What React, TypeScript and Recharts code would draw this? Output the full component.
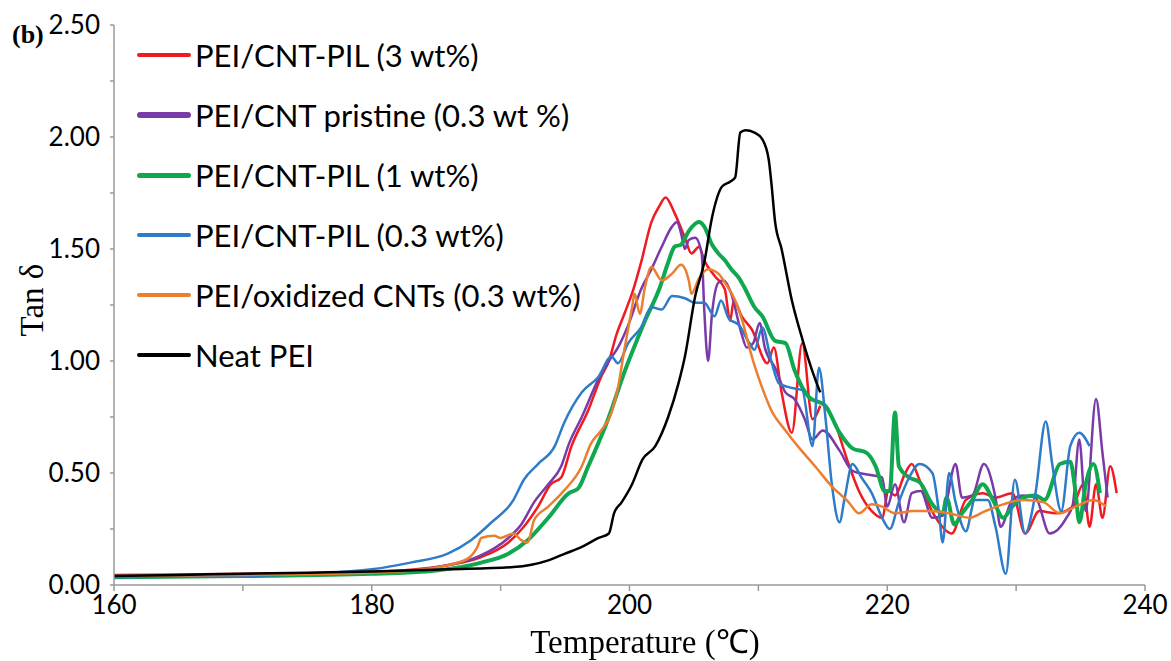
import { LineChart, Line, XAxis, YAxis } from 'recharts';

// temperature (°C) / tan delta pairs
const pil3: [number, number | null][] = [
  [160, 0.045], [165, 0.047], [170, 0.05], [175, 0.053], [180, 0.058], [183, 0.068], [185, 0.08], [187, 0.1],
  [188.5, 0.125], [190.6, 0.19], [191.8, 0.26], [192.9, 0.35], [193.9, 0.45], [194.7, 0.48], [195.5, 0.62],
  [196.8, 0.78], [197.8, 0.93], [198.4, 1.0], [199, 1.12], [199.6, 1.21], [200.3, 1.32], [200.9, 1.44],
  [201.7, 1.62], [202.3, 1.69], [202.8, 1.73], [203.5, 1.66], [204.3, 1.55], [204.8, 1.48], [205.4, 1.51],
  [205.8, 1.45], [206.6, 1.38], [207.4, 1.32], [207.8, 1.18], [208.1, 1.27], [208.7, 1.2], [209.5, 1.14],
  [210.7, 0.99], [211.2, 1.06], [211.8, 0.86], [212.6, 0.68], [213.4, 1.08], [214.2, 0.74], [214.8, 0.8],
  [215.4, null],
  [216, 0.72], [217, 0.54], [217.8, 0.42], [218.8, 0.33], [219.6, 0.3], [220.1, 0.42], [220.6, 0.4],
  [221.4, 0.5], [221.9, 0.54], [222.5, 0.47], [223.3, 0.35], [224, 0.28], [225, 0.23], [226.1, 0.38],
  [227.4, 0.41], [228.4, 0.39], [229.7, 0.41], [230.7, 0.23], [231.8, 0.33], [233.1, 0.32], [234.4, 0.35],
  [235.2, 0.45], [235.7, 0.26], [236.2, 0.45], [236.7, 0.3], [237.3, 0.53], [237.8, 0.41],
];

const pristine: [number, number | null][] = [
  [160, 0.04], [170, 0.045], [180, 0.055], [184, 0.07], [186, 0.09], [188.2, 0.125], [190.6, 0.21],
  [191.6, 0.27], [192.6, 0.37], [193.7, 0.45], [194.7, 0.53], [195.3, 0.63], [196.3, 0.75], [197.6, 0.92],
  [198.4, 1.0], [199.1, 1.06], [199.9, 1.16], [200.9, 1.32], [201.7, 1.41], [202.5, 1.51], [203.3, 1.6],
  [203.7, 1.62], [204, 1.57], [204.3, 1.5], [204.6, 1.54], [205.1, 1.55], [205.6, 1.48], [205.8, 1.23],
  [206.1, 1.0], [206.4, 1.21], [206.9, 1.35], [207.3, 1.36], [207.9, 1.3], [208.7, 1.12], [209.1, 1.06],
  [209.6, 1.08], [210.1, 1.17], [210.5, 1.06], [211.3, 0.97], [212.1, 0.86], [212.8, 0.83], [213.6, 0.74],
  [214.2, 0.65], [215, 0.69], [216.3, 0.6], [217.3, 0.51], [218.8, 0.49], [219.6, 0.48], [220, 0.35],
  [220.6, 0.45], [221.3, 0.28], [221.9, 0.41], [222.6, 0.42], [223.5, 0.3], [224.3, 0.31], [225.3, 0.54],
  [225.8, 0.39], [226.6, 0.4], [227.5, 0.54], [228.4, 0.39], [228.8, 0.26], [229.7, 0.38], [230.5, 0.4],
  [231.5, 0.39], [232.6, 0.23], [233.9, 0.3], [234.4, 0.36], [234.9, 0.65], [235.4, 0.33], [236.2, 0.83],
  [236.7, 0.59], [237.1, 0.39],
];

const pil1: [number, number | null][] = [
  [160, 0.035], [170, 0.04], [180, 0.05], [185, 0.065], [188.5, 0.1], [190.6, 0.14], [192.1, 0.2],
  [193.7, 0.3], [195.3, 0.41], [196, 0.43], [196.8, 0.53], [198.4, 0.75], [199.6, 0.95], [200.7, 1.11],
  [201.2, 1.18], [202.3, 1.32], [203, 1.44], [203.5, 1.51], [204, 1.52], [204.6, 1.58], [205.4, 1.62],
  [205.8, 1.6], [206.4, 1.52], [206.9, 1.48], [207.4, 1.45], [207.9, 1.41], [208.5, 1.37], [208.9, 1.33],
  [209.7, 1.24], [210.3, 1.2], [211.3, 1.09], [212.1, 1.08], [212.8, 0.96], [213.9, 0.84], [215.2, 0.8],
  [216.3, 0.68], [217.3, 0.61], [218.4, 0.59], [219.1, 0.53], [219.8, 0.42], [220.2, 0.42], [220.6, 0.77],
  [220.9, 0.53], [221.7, 0.48], [222.5, 0.46], [223.5, 0.36], [224.3, 0.32], [224.6, 0.39], [225.2, 0.27],
  [225.8, 0.32], [226.6, 0.38], [227.4, 0.45], [228.2, 0.38], [229, 0.3], [229.7, 0.35], [230.5, 0.39],
  [231.5, 0.4], [232.2, 0.38], [233.4, 0.54], [234.2, 0.55], [234.6, 0.42], [234.9, 0.28], [235.4, 0.45],
  [236, 0.54], [236.5, 0.41],
];

const pil03: [number, number | null][] = [
  [160, 0.035], [170, 0.04], [175, 0.05], [180, 0.07], [183, 0.1], [185.9, 0.14], [187.7, 0.2], [189.3, 0.28],
  [191, 0.38], [191.8, 0.47], [192.9, 0.54], [194.2, 0.62], [194.9, 0.72], [196.3, 0.86], [197.6, 0.93],
  [198.6, 1.02], [199.1, 0.99], [199.9, 1.08], [200.9, 1.15], [201.7, 1.24], [202.5, 1.23], [203.3, 1.29],
  [204.3, 1.28], [205.1, 1.26], [205.8, 1.26], [206.6, 1.2], [207.1, 1.27], [207.7, 1.19], [208.5, 1.16],
  [209.3, 1.08], [209.7, 1.05], [210.3, 1.15], [211, 1.0], [211.6, 0.9], [212.6, 0.88], [213.4, 0.87],
  [214.2, 0.62], [214.7, 0.97], [215.2, 0.75], [215.7, 0.45], [216.3, 0.28], [216.7, 0.39], [217.3, 0.54],
  [218, 0.48], [218.8, 0.41], [219.6, 0.3], [220.2, 0.25], [220.9, 0.37], [221.7, 0.48], [222.5, 0.54],
  [223.5, 0.5], [224, 0.33], [224.3, 0.19], [224.8, 0.5], [225.3, 0.37], [226.1, 0.24], [226.8, 0.38],
  [227.8, 0.38], [228.4, 0.26], [229.2, 0.05], [229.9, 0.47], [230.7, 0.23], [231.5, 0.41], [232.3, 0.73],
  [232.8, 0.54], [233.5, 0.33], [234.2, 0.62], [234.9, 0.68], [235.7, 0.62],
];

const oxidized: [number, number | null][] = [
  [160, 0.04], [170, 0.045], [180, 0.055], [184, 0.07], [186, 0.09], [187.5, 0.12], [188.2, 0.17],
  [188.5, 0.21], [189.5, 0.22], [190, 0.21], [191, 0.23], [191.6, 0.2], [192.1, 0.19], [192.6, 0.29],
  [193.7, 0.35], [194.9, 0.42], [196.3, 0.53], [197, 0.63], [197.8, 0.69], [198.6, 0.77], [199.1, 0.88],
  [199.6, 1.05], [200.2, 1.24], [200.4, 1.3], [200.8, 1.21], [201.2, 1.33], [201.7, 1.42], [202.5, 1.36],
  [203.3, 1.39], [204, 1.43], [204.6, 1.36], [204.8, 1.3], [205.4, 1.37], [206.1, 1.41], [206.9, 1.39],
  [207.4, 1.35], [208.2, 1.27], [208.9, 1.15], [209.3, 1.06], [209.7, 0.98], [210.3, 0.88], [211, 0.78],
  [212.1, 0.69], [213.2, 0.61], [214.4, 0.53], [215.7, 0.44], [217, 0.37], [217.8, 0.32], [218.8, 0.36],
  [219.6, 0.35], [220.6, 0.32], [222, 0.33], [223.3, 0.33], [224.8, 0.32], [226.4, 0.3], [227.6, 0.33],
  [229, 0.36], [230.5, 0.38], [232.1, 0.37], [233.4, 0.32], [234.6, 0.35], [236, 0.38], [237, 0.35],
];

const neat: [number, number | null][] = [
  [160, 0.04], [165, 0.045], [170, 0.05], [175, 0.055], [180, 0.06], [185.9, 0.07], [191, 0.08],
  [193.7, 0.11], [195, 0.14], [196.3, 0.17], [197.6, 0.21], [198.4, 0.23], [198.8, 0.32], [199.4, 0.37],
  [200.2, 0.45], [201, 0.56], [202, 0.62], [203, 0.75], [203.8, 0.9], [204.3, 1.02], [205.1, 1.29],
  [205.8, 1.44], [206.4, 1.64], [207.2, 1.78], [207.8, 1.8], [208.2, 1.82], [208.6, 2.02], [209, 2.03],
  [209.7, 2.02], [210.3, 1.99], [210.8, 1.9], [211, 1.8], [211.3, 1.62], [211.8, 1.5], [212.6, 1.27],
  [213.4, 1.1], [214.4, 0.92], [214.8, 0.86],
];

const seriesNames = [
  'PEI/CNT-PIL (3 wt%)',
  'PEI/CNT pristine (0.3 wt %)',
  'PEI/CNT-PIL (1 wt%)',
  'PEI/CNT-PIL (0.3 wt%)',
  'PEI/oxidized CNTs (0.3 wt%)',
  'Neat PEI',
];
const seriesData = [pil3, pristine, pil1, pil03, oxidized, neat];
const colors = ['#f01a22', '#7a3aa8', '#10a84e', '#2e7bc8', '#ec7e30', '#000000'];
const widths = [2.5, 2.5, 4, 2.5, 2.5, 2.5];
const legendWidths = [4, 6, 5, 4, 4, 4];

const xTicks = [160, 170, 180, 190, 200, 210, 220, 230, 240];
const yTicks = [0, 0.25, 0.5, 0.75, 1, 1.25, 1.5, 1.75, 2, 2.25, 2.5];

const toPoints = (arr: [number, number | null][]) => arr.map(([t, v]) => ({ t, v }));

const tickFont = { fill: '#000', fontSize: 26, fontFamily: 'Lato, sans-serif' };
const serif = '"Liberation Serif", "Times New Roman", serif';

const LegendBox = () => (
  <div style={{ position: 'absolute', left: 137, top: 25, fontFamily: 'Lato, sans-serif', fontSize: 31, color: '#000' }}>
    {seriesNames.map((name, i) => (
      <div key={name} style={{ display: 'flex', alignItems: 'center', height: 60, whiteSpace: 'nowrap' }}>
        <span
          style={{
            display: 'inline-block', width: 54, height: legendWidths[i],
            background: colors[i], borderRadius: 3, marginRight: 4,
          }}
        />
        <span>{name}</span>
      </div>
    ))}
  </div>
);

export default function App() {
  return (
    <div style={{ position: 'fixed', left: 0, top: 0, width: 1171, height: 661, background: '#fff' }}>
      <LineChart width={1171} height={661} margin={{ top: 25, right: 26, bottom: 46, left: 54 }}>
        <XAxis
          type="number"
          dataKey="t"
          domain={[160, 240]}
          ticks={xTicks}
          allowDataOverflow
          tickFormatter={(v) => (v % 20 === 0 ? String(v) : '')}
          tick={tickFont}
          tickSize={6}
          tickMargin={5}
          stroke="#9a9a9a"
          strokeWidth={1.5}
          height={30}
        />
        <YAxis
          type="number"
          domain={[0, 2.5]}
          ticks={yTicks}
          tickFormatter={(v) => (Math.round(v * 4) % 2 === 0 ? v.toFixed(2) : '')}
          tick={tickFont}
          tickSize={4}
          tickMargin={10}
          stroke="#9a9a9a"
          strokeWidth={1.5}
          width={60}
        />
        {seriesData.map((arr, i) => (
          <Line
            key={seriesNames[i]}
            data={toPoints(arr)}
            dataKey="v"
            name={seriesNames[i]}
            type="monotone"
            stroke={colors[i]}
            strokeWidth={widths[i]}
            dot={false}
            activeDot={false}
            connectNulls={false}
            isAnimationActive={false}
          />
        ))}
      </LineChart>
      <LegendBox />
      <div style={{ position: 'absolute', left: 12, top: 20, fontFamily: serif, fontWeight: 'bold', fontSize: 26, lineHeight: '30px' }}>
        (b)
      </div>
      <div
        style={{
          position: 'absolute', left: 32, top: 300, transform: 'translate(-50%, -50%) rotate(-90deg)',
          fontFamily: serif, fontSize: 33, whiteSpace: 'nowrap',
        }}
      >
        Tan δ
      </div>
      <div
        style={{
          position: 'absolute', left: 645, top: 640, transform: 'translate(-50%, -50%)',
          fontFamily: serif, fontSize: 33, whiteSpace: 'nowrap',
        }}
      >
        Temperature (℃)
      </div>
    </div>
  );
}
